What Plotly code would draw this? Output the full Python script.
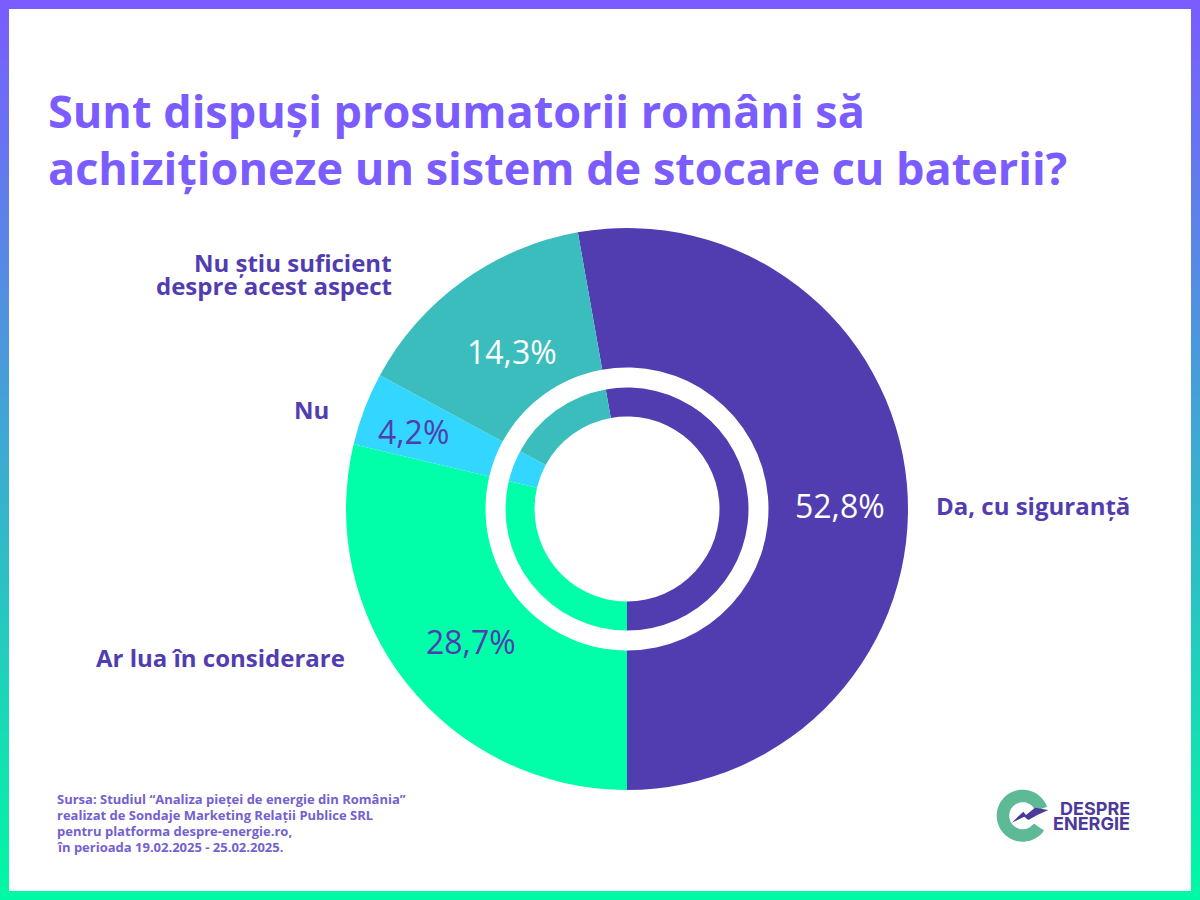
import math
import plotly.graph_objects as go

# ---- data ----
categories = ["Da, cu siguranță", "Ar lua în considerare", "Nu", "Nu știu suficient<br>despre acest aspect"]
values = [52.8, 28.7, 4.2, 14.3]
slice_colors = ["#513DB0", "#00FFA8", "#33D6FF", "#3BBDBD"]
value_text_colors = ["#FFFFFF", "#513DB0", "#513DB0", "#FFFFFF"]
title_lines = ["Sunt dispuși prosumatorii români să", "achiziționeze un sistem de stocare cu baterii?"]
source_lines = [
    "Sursa: Studiul “Analiza pieței de energie din România”",
    "realizat de Sondaje Marketing Relații Publice SRL",
    "pentru platforma despre-energie.ro,",
    "în perioada 19.02.2025 - 25.02.2025.",
]
logo_words = ["DESPRE", "ENERGIE"]

# ---- layout constants ----
W, H = 1200, 900
CX, CY = 627, 509
R_OUT, R_GAP, R_IN, R_HOLE = 281, 141.5, 121.5, 92.5
ROT = -10.08
FONT = "Open Sans"
DARK = "#513DB0"
PURPLE = "#7A5CFF"

value_pos = [(840, 506), (471, 641), (414, 431), (512, 351)]
label_right = [1132, 347, 331, 394]
label_mid = [506, 657, 410, 274]
LABEL_LINE = 24


def px(x):
    return x / W


def py(y):
    return 1 - y / H


def domain(r):
    return dict(x=[px(CX - r), px(CX + r)], y=[py(CY + r), py(CY - r)])


def lerp_hex(a, b, t):
    ca = [int(a[i:i + 2], 16) for i in (1, 3, 5)]
    cb = [int(b[i:i + 2], 16) for i in (1, 3, 5)]
    return "#%02x%02x%02x" % tuple(round(p + (q - p) * t) for p, q in zip(ca, cb))


fig = go.Figure()
for r, hole in ((R_OUT, R_GAP / R_OUT), (R_IN, R_HOLE / R_IN)):
    fig.add_trace(go.Pie(
        labels=categories, values=values, sort=False, direction="clockwise", rotation=ROT,
        hole=hole, domain=domain(r), textinfo="none", showlegend=False, hoverinfo="label+percent",
        marker=dict(colors=slice_colors, line=dict(width=0)),
    ))

shapes = []
# gradient frame
B = 9
step = 6
for y0 in range(0, H, step):
    col = lerp_hex(PURPLE, "#00F9A4", min(1, y0 / (H - step)))
    y1 = min(H, y0 + step + 1)
    shapes.append(dict(type="rect", xref="paper", yref="paper", x0=0, x1=px(B), y0=py(y0), y1=py(y1), fillcolor=col, line_width=0, layer="below"))
    shapes.append(dict(type="rect", xref="paper", yref="paper", x0=px(W - B), x1=1, y0=py(y0), y1=py(y1), fillcolor=col, line_width=0, layer="below"))
    if y0 < B:
        shapes.append(dict(type="rect", xref="paper", yref="paper", x0=0, x1=1, y0=py(y0), y1=py(min(B, y1)), fillcolor=col, line_width=0, layer="below"))
    if y1 > H - B:
        shapes.append(dict(type="rect", xref="paper", yref="paper", x0=0, x1=1, y0=py(max(H - B, y0)), y1=py(y1), fillcolor=col, line_width=0, layer="below"))


# logo
def pts_path(pts):
    return "M" + " L".join(f"{px(x):.5f},{py(y):.5f}" for x, y in pts) + " Z"


lx, ly, lo, li = 1022.7, 815.7, 26, 13.5
a0, a1 = math.radians(-20), math.radians(-325)
n = 60
ring = [(lx + lo * math.cos(a0 + (a1 - a0) * i / n), ly + lo * math.sin(a0 + (a1 - a0) * i / n)) for i in range(n + 1)]
ring += [(lx + li * math.cos(a1 + (a0 - a1) * i / n), ly + li * math.sin(a1 + (a0 - a1) * i / n)) for i in range(n + 1)]
shapes.append(dict(type="path", xref="paper", yref="paper", path=pts_path(ring), fillcolor="#5DB996", line_width=0))
bolt = [(1011.7, 822.7), (1023.3, 811.7), (1026, 815), (1035, 807.7), (1048.3, 810), (1037.3, 815), (1028.3, 820), (1024.3, 816.7)]
shapes.append(dict(type="path", xref="paper", yref="paper", path=pts_path(bolt), fillcolor="#4B3A99", line_width=0))

annotations = []
for v, c, (x, y) in zip(values, value_text_colors, value_pos):
    annotations.append(dict(text=f"{v:.1f}%".replace(".", ","), x=px(x), y=py(y), xref="paper", yref="paper",
                            showarrow=False, xanchor="center", yanchor="middle",
                            font=dict(family=FONT, size=32, color=c)))
for t, x, ym in zip(categories, label_right, label_mid):
    parts = t.split("<br>")
    for i, part in enumerate(parts):
        y = ym + (i - (len(parts) - 1) / 2) * LABEL_LINE
        annotations.append(dict(text=part, x=px(x), y=py(y), xref="paper", yref="paper", showarrow=False,
                                xanchor="right", yanchor="middle",
                                font=dict(family=FONT, size=24, color=DARK, weight=700)))
for i, line in enumerate(source_lines):
    annotations.append(dict(text=line, x=px(55), y=py(799 + i * 16), xref="paper", yref="paper", showarrow=False,
                            xanchor="left", yanchor="middle",
                            font=dict(family=FONT, size=13, color="#7460CF", weight=700)))
for i, w in enumerate(logo_words):
    annotations.append(dict(text=w, x=px(1132), y=py(808 + i * 15), xref="paper", yref="paper", showarrow=False,
                            xanchor="right", yanchor="middle",
                            font=dict(family="Inter", size=18, color="#4B3A99", weight=700)))
annotations.append(dict(text=title_lines[1], x=px(46), y=py(167), xref="paper", yref="paper", showarrow=False,
                        xanchor="left", yanchor="middle",
                        font=dict(family=FONT, size=45, color=PURPLE, weight=700)))

fig.update_layout(
    width=W, height=H, margin=dict(l=0, r=0, t=0, b=0),
    paper_bgcolor="#FFFFFF", plot_bgcolor="#FFFFFF", showlegend=False,
    shapes=shapes, annotations=annotations,
    title=dict(text=title_lines[0], x=px(48), y=py(112), xref="paper", yref="paper", xanchor="left", yanchor="middle",
               font=dict(family=FONT, size=45, color=PURPLE, weight=700)),
)
fig.write_html("out.html", config={"displayModeBar": False},
               post_script="document.body.style.margin='0';document.body.style.overflow='hidden';")
